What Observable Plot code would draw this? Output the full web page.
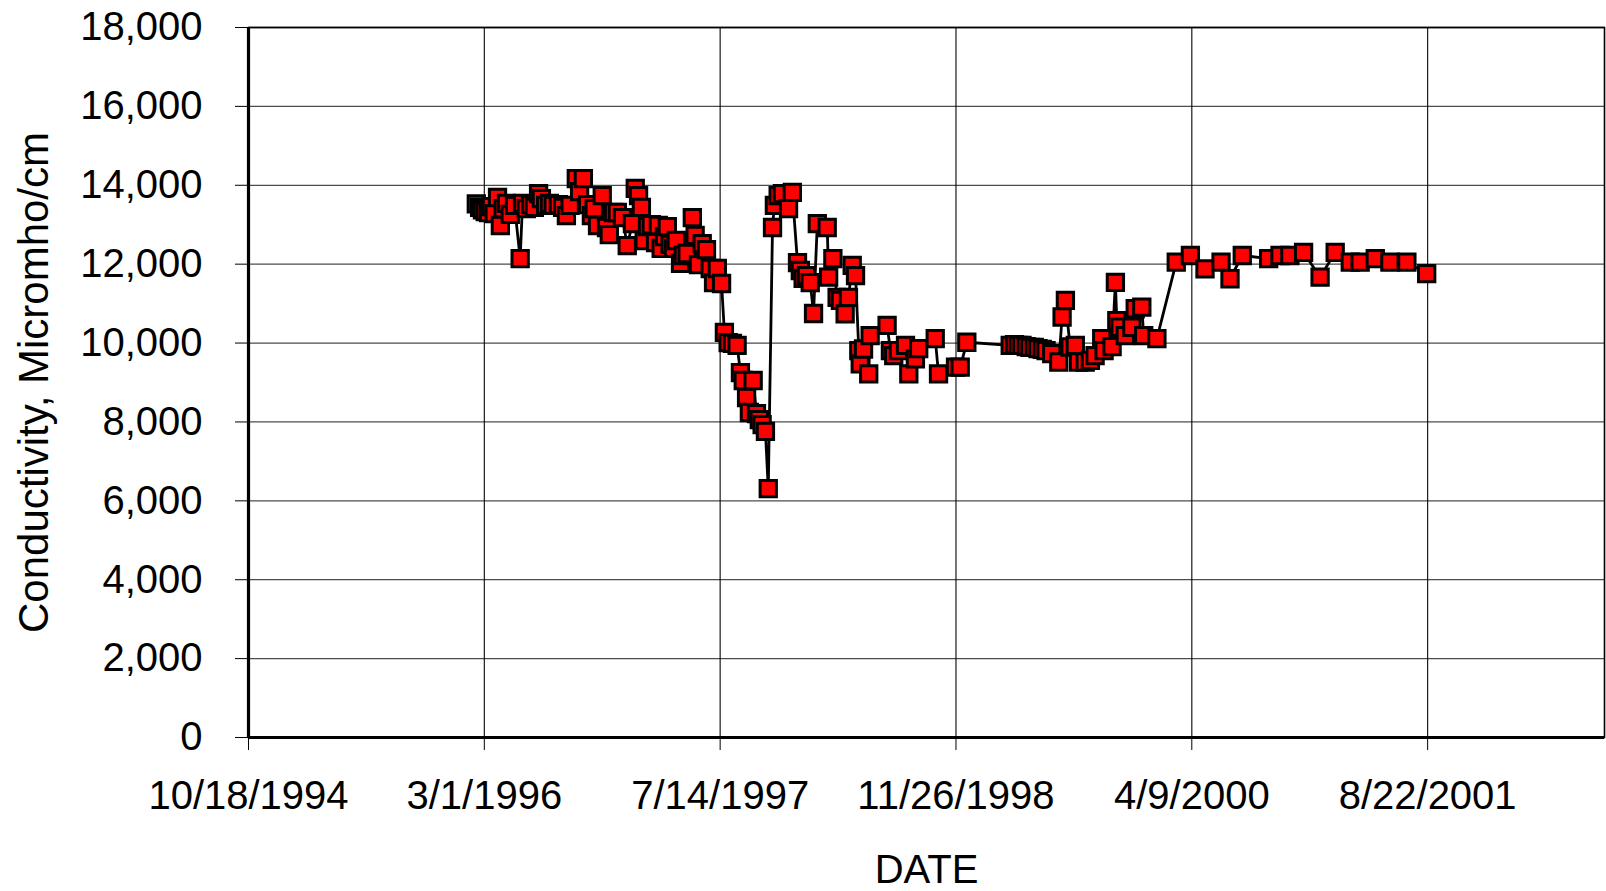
<!DOCTYPE html>
<html><head><meta charset="utf-8">
<script src="https://cdn.jsdelivr.net/npm/d3@7"></script>
<script src="https://cdn.jsdelivr.net/npm/@observablehq/plot@0.6"></script>
<style>
html,body{margin:0;padding:0;background:#fff;}
#chart svg{display:block;}
</style></head><body><div id="chart"></div>
<script>
const dates = [
"1996-02-13","1996-02-20","1996-02-26","1996-03-03","1996-03-10","1996-03-16","1996-03-22","1996-03-29","1996-04-04","1996-04-10",
"1996-04-17","1996-04-25","1996-05-04","1996-05-16","1996-05-21","1996-05-29","1996-06-07","1996-06-15","1996-06-24","1996-06-30",
"1996-07-09","1996-07-17","1996-07-25","1996-08-05","1996-08-14","1996-08-22","1996-08-30","1996-09-12","1996-09-19","1996-09-27",
"1996-10-06","1996-10-14","1996-10-20","1996-10-27","1996-11-06","1996-11-15","1996-11-21","1996-11-30","1996-12-08","1996-12-19",
"1996-12-29","1997-01-09","1997-01-15","1997-01-22","1997-01-28","1997-02-03","1997-02-10","1997-02-18","1997-02-27","1997-03-05",
"1997-03-11","1997-03-18","1997-03-24","1997-03-30","1997-04-06","1997-04-12","1997-04-21","1997-04-27","1997-05-05","1997-05-16",
"1997-05-22","1997-05-29","1997-06-06","1997-06-15","1997-06-23","1997-06-30","1997-07-08","1997-07-17","1997-07-23","1997-07-31",
"1997-08-09","1997-08-19","1997-08-26","1997-09-01","1997-09-08","1997-09-14","1997-09-22","1997-09-29","1997-10-05","1997-10-11",
"1997-10-18","1997-10-24","1997-11-02","1997-11-06","1997-11-14","1997-11-23","1997-12-06","1997-12-14","1997-12-25","1997-12-31",
"1998-01-06","1998-01-13","1998-01-21","1998-01-28","1998-02-05","1998-02-26","1998-03-01","1998-03-10","1998-03-19","1998-03-26",
"1998-04-05","1998-04-12","1998-04-20","1998-04-27","1998-05-04","1998-05-07","1998-05-14","1998-05-25","1998-05-28","1998-07-03",
"1998-07-10","1998-07-17","1998-07-27","1998-08-11","1998-08-18","1998-09-01","1998-09-08","1998-10-13","1998-10-20","1998-11-25",
"1998-12-05","1998-12-19",
"1999-03-21","1999-03-30","1999-04-07","1999-04-15","1999-04-24","1999-05-02","1999-05-11","1999-05-19","1999-05-28","1999-06-05",
"1999-06-17","1999-07-02","1999-07-09","1999-07-16","1999-07-26","1999-08-06","1999-08-13","1999-08-27","1999-09-07","1999-09-17",
"1999-10-01","1999-10-06","1999-10-23","1999-10-30","1999-11-02","1999-11-09","1999-11-20","1999-12-04","1999-12-11","1999-12-25",
"1999-12-29","2000-01-26","2000-03-07","2000-04-06","2000-05-07","2000-06-10","2000-06-29","2000-07-25","2000-09-19","2000-10-13",
"2000-11-03","2000-12-02","2001-01-06","2001-02-07","2001-03-11","2001-04-01","2001-05-03","2001-06-03","2001-07-09","2001-08-20"
];
const conductivity = [
13530,13440,13380,13330,13310,13460,13280,13690,12980,13410,
13540,13260,13490,12140,13540,13410,13510,13440,13790,13660,
13490,13540,13490,13510,13440,13230,13490,14170,13840,14170,
13510,13230,13410,12980,13740,12930,12750,13310,13310,13180,
12470,13030,13920,13740,13440,12600,12950,13000,12550,12980,
12400,12700,12950,12500,12400,12600,12020,12220,12270,13180,
12730,11990,12520,12370,11890,11530,11890,11510,10270,10010,
9990,9940,9250,9050,8620,8240,9050,8210,8060,7930,
7760,6310,12930,13490,13740,13790,13410,13820,12040,11840,
11640,11710,11530,10750,13030,12930,11670,12140,11160,11080,
10740,11160,11970,11710,9810,9470,9850,9220,10190,10450,
9810,9680,9810,9940,9220,9600,9860,10110,9220,9390,
9390,10020,
9940,9960,9940,9940,9910,9890,9890,9860,9840,9810,
9730,9520,10660,11080,9900,9940,9520,9520,9560,9680,
10110,9810,9910,11540,10570,10400,10190,10400,10870,10910,
10190,10110,12050,12220,11880,12050,11630,12220,12140,12220,
12220,12300,11670,12300,12050,12050,12140,12050,12050,11760
];
const xTicks = ["1994-10-18","1996-03-01","1997-07-14","1998-11-26","2000-04-09","2001-08-22"];
const yTicks = [0,2000,4000,6000,8000,10000,12000,14000,16000,18000];
const xDomain = ["1994-10-18","2002-09-01"];
const xLabel = "DATE";
const yLabel = "Conductivity, Micromho/cm";

const parse = s => new Date(s + "T00:00:00Z");
const data = dates.map((d, i) => ({date: parse(d), value: conductivity[i]}));
const xTickDates = xTicks.map(parse);
const fmt = d3.utcFormat("%-m/%-d/%Y");

const chart = Plot.plot({
  width: 1606, height: 891,
  marginLeft: 248, marginRight: 2, marginTop: 27, marginBottom: 154,
  style: {fontFamily: "'Liberation Sans', Arial, sans-serif", fontSize: "40px", background: "#fff", color: "#000"},
  x: {type: "utc", domain: xDomain.map(parse), ticks: xTickDates, tickFormat: fmt, tickSize: 13, tickPadding: 30, label: null},
  y: {domain: [0, 18000], ticks: yTicks, tickFormat: d3.format(","), tickSize: 13, tickPadding: 33, label: null},
  marks: [
    Plot.ruleY(yTicks, {stroke: "#000", strokeOpacity: 0.7, strokeWidth: 1.3}),
    Plot.ruleX(xTickDates, {stroke: "#000", strokeOpacity: 0.9, strokeWidth: 1.2}),
    Plot.frame({stroke: "#000", strokeWidth: 1.6}),
    Plot.ruleY([0], {stroke: "#000", strokeWidth: 3.2}),
    Plot.ruleX([parse(xDomain[0])], {stroke: "#000", strokeWidth: 3.2}),
    Plot.line(data, {x: "date", y: "value", stroke: "#000", strokeWidth: 2.8}),
    Plot.dot(data, {x: "date", y: "value", symbol: "square", r: 9.2, fill: "#ff0000", stroke: "#000", strokeWidth: 3}),
    Plot.text([yLabel], {text: d => d, frameAnchor: "left", dx: -214, rotate: -90, fontSize: 42, textAnchor: "middle", lineAnchor: "middle", fill: "#000"}),
    Plot.text([xLabel], {text: d => d, frameAnchor: "bottom", dy: 133, fontSize: 40, textAnchor: "middle", lineAnchor: "middle", fill: "#000"})
  ]
});
document.getElementById("chart").appendChild(chart);
</script>
</body></html>
